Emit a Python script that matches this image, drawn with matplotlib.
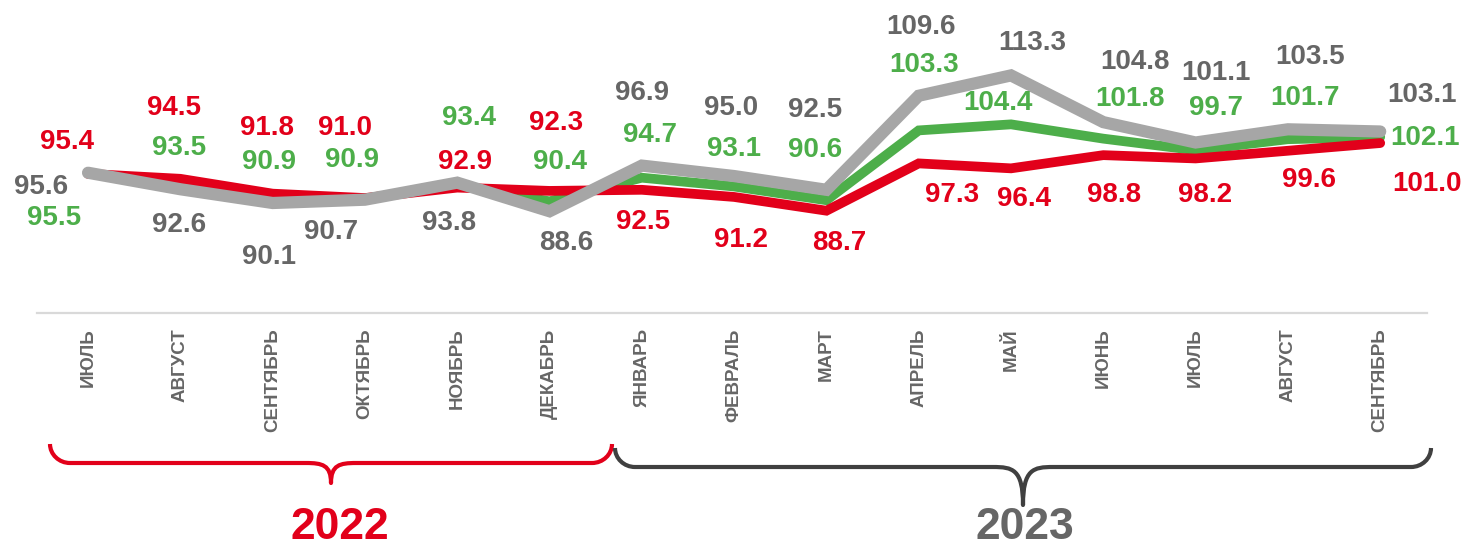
import matplotlib
matplotlib.use("Agg")
import matplotlib.pyplot as plt
from matplotlib.path import Path
from matplotlib.patches import PathPatch

plt.rcParams['font.family'] = ['Liberation Sans', 'DejaVu Sans']

# ---------------- data ----------------
months = ["ИЮЛЬ", "АВГУСТ", "СЕНТЯБРЬ", "ОКТЯБРЬ", "НОЯБРЬ", "ДЕКАБРЬ",
          "ЯНВАРЬ", "ФЕВРАЛЬ", "МАРТ", "АПРЕЛЬ", "МАЙ", "ИЮНЬ",
          "ИЮЛЬ", "АВГУСТ", "СЕНТЯБРЬ"]
red_values = [95.4, 94.5, 91.8, 91.0, 92.9, 92.3, 92.5, 91.2, 88.7,
              97.3, 96.4, 98.8, 98.2, 99.6, 101.0]
green_values = [95.5, 93.5, 90.9, 90.9, 93.4, 90.4, 94.7, 93.1, 90.6,
                103.3, 104.4, 101.8, 99.7, 101.7, 102.1]
gray_values = [95.6, 92.6, 90.1, 90.7, 93.8, 88.6, 96.9, 95.0, 92.5,
               109.6, 113.3, 104.8, 101.1, 103.5, 103.1]
years = ["2022", "2023"]

# label offsets (pixels, dx right, dy up) relative to each point
red_off = [(-21, 32), (-6, 71), (-6, 66), (-20, 70), (8, 26), (7, 68),
           (1, -32), (7, -43), (13, -32), (33, -32), (13, -31), (11, -40),
           (9, -37), (21, -29), (47, -41)]
green_off = [(-34, -45), (-1, 36), (-4, 37), (-13, 39), (12, 67), (10, 39),
             (8, 43), (0, 37), (-11, 50), (5, 65), (-13, 21), (27, 40),
             (20, 42), (17, 41), (45, -1)]
gray_off = [(-47, -14), (-1, -36), (-4, -54), (-34, -32), (-8, -40), (17, -32),
            (0, 73), (-3, 68), (-11, 80), (2, 69), (21, 32), (32, 60),
            (20, 70), (22, 72), (42, 36)]

RED = "#E2001A"
GREEN = "#4DAE4A"
GRAY_LINE = "#A6A6A6"
GRAY_TEXT = "#666666"
BRACE_GRAY = "#404040"

W, H = 1468, 549
fig = plt.figure(figsize=(W / 100, H / 100), dpi=100)

# main axes: x from 37 px to 1427 px, bottom at y=313 px from top
ax = fig.add_axes([37 / W, 1 - 313 / H, (1427 - 37) / W, 313 / H])
x = list(range(len(months)))
ax.set_xlim(-0.553, 14.507)
ax.set_ylim(70.1, 70.1 + 313 / 5.5)

common = dict(solid_joinstyle='miter', solid_capstyle='round')
ax.plot(x, green_values, color=GREEN, lw=7, zorder=2, **common)
ax.plot(x, red_values, color=RED, lw=7, zorder=3, **common)
ax.plot(x, gray_values, color=GRAY_LINE, lw=8.8, zorder=4, **common)

for vals, offs, col in [(red_values, red_off, RED),
                        (green_values, green_off, GREEN),
                        (gray_values, gray_off, GRAY_TEXT)]:
    for i, (v, (dx, dy)) in enumerate(zip(vals, offs)):
        ax.annotate(f"{v:.1f}", xy=(i, v), xytext=(dx, dy),
                    textcoords='offset pixels', ha='center', va='center',
                    fontsize=20, fontweight='bold', color=col, zorder=5,
                    annotation_clip=False)

for s in ['top', 'right', 'left']:
    ax.spines[s].set_visible(False)
ax.spines['bottom'].set_color('#D9D9D9')
ax.spines['bottom'].set_linewidth(1.6)
ax.set_yticks([])
ax.set_xticks(x)
ax.set_xticklabels(months, rotation=90, fontsize=13.5, fontweight='bold',
                   color=GRAY_TEXT, va='top', ha='center')
ax.tick_params(axis='x', length=0, pad=11)
ax.patch.set_alpha(0)

# overlay axes in pixel coords for braces & year labels
ov = fig.add_axes([0, 0, 1, 1])
ov.set_xlim(0, W)
ov.set_ylim(H, 0)
ov.axis('off')
ov.patch.set_alpha(0)


def brace(x0, x1, y_end, y_line, y_tip, r, r2, color, lw):
    xc = (x0 + x1) / 2
    k = 0.55
    verts = [(x0, y_end),
             (x0, y_end + k * (y_line - y_end)), (x0 + r - k * r, y_line), (x0 + r, y_line),
             (xc - r2, y_line),
             (xc - r2 * 0.35, y_line), (xc, y_line + 2), (xc, y_tip),
             (xc, y_line + 2), (xc + r2 * 0.35, y_line), (xc + r2, y_line),
             (x1 - r, y_line),
             (x1 - r + k * r, y_line), (x1, y_end + k * (y_line - y_end)), (x1, y_end)]
    codes = [Path.MOVETO,
             Path.CURVE4, Path.CURVE4, Path.CURVE4,
             Path.LINETO,
             Path.CURVE4, Path.CURVE4, Path.CURVE4,
             Path.CURVE4, Path.CURVE4, Path.CURVE4,
             Path.LINETO,
             Path.CURVE4, Path.CURVE4, Path.CURVE4]
    ov.add_patch(PathPatch(Path(verts, codes), facecolor='none', edgecolor=color,
                           lw=lw, capstyle='butt', joinstyle='round'))


brace(50, 612, 444, 463, 483, 20, 25, RED, 3)
brace(615, 1431, 448, 467, 505, 20, 30, BRACE_GRAY, 3)

ov.text(340, 548, years[0], ha='center', va='bottom', fontsize=32,
        fontweight='bold', color=RED)
ov.text(1025, 548, years[1], ha='center', va='bottom', fontsize=32,
        fontweight='bold', color=GRAY_TEXT)

fig.savefig("out.png", dpi=100)
